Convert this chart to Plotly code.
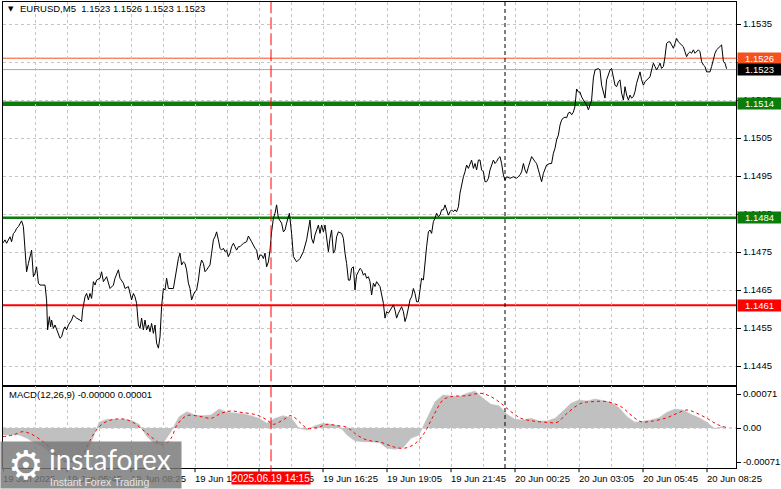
import plotly.graph_objects as go

# ---------------- data ----------------
# bar position (M5 bars from 19 Jun 03:05) and close price
bar_pos = [
    0, 1, 1.8, 3.5, 4.3, 5.2, 6, 6.8, 7.7, 9.3, 10.2, 11, 11.8, 12.7, 13.5, 14.3, 15.2, 16, 16.8, 17.7,
    18.5, 21, 21.8, 22.3, 23.2, 23.8, 24.3, 25.2, 26, 27.7, 28.5, 29.3, 30.2, 31, 31.8, 32.7, 34.3, 35.2, 36.8, 38.5,
    39.3, 39.8, 41, 41.8, 42.7, 43.5, 44.3, 45.2, 46, 46.8, 48.5, 49.3, 50.2, 51.8, 53.5, 55.2, 56, 57.7, 58.5, 60.2,
    61, 62.7, 63.5, 64.3, 65.2, 66, 66.8, 67.7, 68.5, 69.3, 70.2, 71, 71.8, 72.7, 73.5, 74.3, 75.2, 76, 76.8, 77.7,
    78.5, 79.3, 80.2, 81, 81.8, 82.7, 85.2, 86.8, 87.7, 88.5, 89.3, 90.2, 91, 91.8, 92.7, 93.5, 94.3, 95.2, 96, 96.8,
    97.7, 98.5, 99.3, 100.2, 101, 101.8, 103.5, 104.3, 105.2, 106, 106.8, 107.7, 108.5, 109.3, 110.2, 111, 111.8, 112.7, 113.5, 114.3,
    115.2, 116, 116.8, 117.7, 118.5, 120.2, 121.8, 122.7, 123.5, 124.3, 126, 126.8, 127.7, 128.5, 129.3, 130.2, 131, 131.8, 132.7, 133.5,
    134.3, 135.2, 136, 136.8, 137.7, 138.5, 139.3, 140.2, 141, 141.8, 143.2, 144.3, 145.2, 146.8, 148.5, 150.2, 151.8, 153.5, 154.3, 155.2,
    156, 157.7, 158.5, 159.3, 160.2, 161, 161.8, 162.7, 163.5, 164.3, 165.2, 166, 166.8, 167.7, 169.3, 170.2, 171, 171.8, 172.7, 173.5,
    174.3, 175.2, 176, 176.8, 177.7, 178.5, 179.3, 180.2, 181, 181.8, 182.7, 183.5, 184.3, 185.2, 186, 186.8, 188.5, 189.3, 190.2, 191,
    191.8, 192.7, 193.5, 195.2, 196, 196.8, 197.7, 199.3, 200.2, 201, 201.8, 202.7, 203.5, 204.3, 205.2, 206, 206.8, 207.7, 208.5, 209.3,
    210.2, 211, 211.8, 212.7, 213.5, 214.3, 215.2, 216, 216.8, 217.7, 218.5, 219.3, 220.2, 221, 221.8, 222.7, 223.5, 224.3, 225.2, 226,
    226.8, 227.7, 228.5, 229.3, 230.2, 231, 231.8, 232.7, 233.5, 234.3, 235.2, 236, 236.8, 237.7, 238.5, 239.3, 240.2, 241, 241.8, 242.7,
    243.5, 244.3, 245.2, 246, 246.8, 247.7, 248.5, 249.3, 250.2, 251, 251.8, 253.5, 255.2, 256.8, 258.5, 259.3, 260.2, 261, 261.8, 262.7,
    264.3, 266, 266.8, 267.7, 269.3, 270.2, 271.8, 273.5, 274.3, 275.2, 276, 276.8, 277.7, 278.5, 279.3, 280.2, 281, 281.8, 282.7, 283.5,
    284.3, 285.2, 286, 286.8, 287.7, 288.5, 289.3, 290.2, 291.8, 292.7, 293.5, 294.3, 295.2, 296, 297.7, 298.5, 299.3, 300.2, 301, 301.8,
    302.7, 303.5, 304.3, 305.2, 306, 306.8, 307.7, 308.5, 309.3, 310.2, 311, 311.8, 312.7, 313.5, 314.3, 315.2, 316, 316.8, 317.7, 318.5,
    319.3, 320.2, 321, 323.5, 324.3, 325.2, 326, 326.8, 327.7, 328.5, 329.3, 330.2, 331, 331.8, 332.7, 333.5, 334.3, 335.2, 336, 336.8,
    337.7, 338.5, 339.3, 340.2, 341, 341.8, 342.7, 343.5, 344.3, 345.2, 346, 346.8, 347.7, 348.5, 349.3, 350.2, 351, 351.8, 353.5, 354.3,
    355.2, 356, 356.8, 358.5, 359.3, 360.2, 361, 361.8,
]
close = [
    1.14774, 1.14782, 1.14773, 1.14790, 1.14777, 1.14799, 1.14803, 1.14812, 1.14817, 1.14832, 1.14817, 1.14755, 1.14698, 1.14720, 1.14738, 1.14755, 1.14685, 1.14694, 1.14711, 1.14668,
    1.14663, 1.14663, 1.14624, 1.14545, 1.14580, 1.14553, 1.14571, 1.14549, 1.14558, 1.14536, 1.14523, 1.14527, 1.14545, 1.14553, 1.14545, 1.14558, 1.14571, 1.14584, 1.14576, 1.14571,
    1.14567, 1.14597, 1.14632, 1.14641, 1.14624, 1.14641, 1.14628, 1.14672, 1.14663, 1.14676, 1.14681, 1.14698, 1.14672, 1.14685, 1.14654, 1.14663, 1.14681, 1.14703, 1.14681, 1.14668,
    1.14654, 1.14659, 1.14641, 1.14624, 1.14641, 1.14632, 1.14615, 1.14558, 1.14549, 1.14576, 1.14545, 1.14571, 1.14545, 1.14558, 1.14540, 1.14562, 1.14536, 1.14558, 1.14510, 1.14497,
    1.14527, 1.14606, 1.14654, 1.14650, 1.14681, 1.14654, 1.14654, 1.14707, 1.14733, 1.14747, 1.14716, 1.14724, 1.14720, 1.14703, 1.14668, 1.14654, 1.14624, 1.14637, 1.14646, 1.14650,
    1.14676, 1.14711, 1.14729, 1.14720, 1.14698, 1.14703, 1.14716, 1.14747, 1.14782, 1.14790, 1.14803, 1.14782, 1.14760, 1.14755, 1.14760, 1.14751, 1.14755, 1.14738, 1.14747, 1.14764,
    1.14773, 1.14764, 1.14755, 1.14764, 1.14764, 1.14773, 1.14777, 1.14792, 1.14786, 1.14777, 1.14760, 1.14755, 1.14729, 1.14742, 1.14742, 1.14733, 1.14747, 1.14711, 1.14724, 1.14755,
    1.14803, 1.14839, 1.14852, 1.14874, 1.14839, 1.14834, 1.14826, 1.14803, 1.14808, 1.14826, 1.14852, 1.14799, 1.14738, 1.14724, 1.14733, 1.14751, 1.14782, 1.14834, 1.14786, 1.14773,
    1.14795, 1.14821, 1.14799, 1.14821, 1.14803, 1.14821, 1.14790, 1.14751, 1.14786, 1.14808, 1.14747, 1.14755, 1.14790, 1.14803, 1.14799, 1.14786, 1.14747, 1.14720, 1.14676, 1.14676,
    1.14707, 1.14711, 1.14650, 1.14689, 1.14698, 1.14707, 1.14703, 1.14689, 1.14694, 1.14681, 1.14685, 1.14672, 1.14637, 1.14668, 1.14659, 1.14672, 1.14659, 1.14637, 1.14615, 1.14576,
    1.14593, 1.14589, 1.14597, 1.14611, 1.14597, 1.14576, 1.14589, 1.14606, 1.14593, 1.14567, 1.14580, 1.14602, 1.14624, 1.14632, 1.14654, 1.14641, 1.14619, 1.14619, 1.14646, 1.14681,
    1.14676, 1.14729, 1.14764, 1.14803, 1.14808, 1.14799, 1.14830, 1.14839, 1.14852, 1.14843, 1.14847, 1.14861, 1.14861, 1.14874, 1.14861, 1.14847, 1.14856, 1.14861, 1.14856, 1.14861,
    1.14856, 1.14869, 1.14905, 1.14931, 1.14948, 1.14961, 1.14979, 1.14970, 1.14983, 1.14992, 1.14970, 1.14983, 1.14966, 1.14992, 1.14992, 1.14966, 1.14961, 1.14935, 1.14935, 1.14944,
    1.14966, 1.14979, 1.14992, 1.14983, 1.14988, 1.14997, 1.15001, 1.14983, 1.14953, 1.14939, 1.14948, 1.14944, 1.14948, 1.14944, 1.14953, 1.14961, 1.14983, 1.14966, 1.14957, 1.14974,
    1.15001, 1.14988, 1.14983, 1.14966, 1.14935, 1.14957, 1.14979, 1.14983, 1.14983, 1.15010, 1.15023, 1.15045, 1.15058, 1.15084, 1.15097, 1.15103, 1.15105, 1.15103, 1.15116, 1.15118,
    1.15111, 1.15118, 1.15134, 1.15179, 1.15171, 1.15171, 1.15158, 1.15150, 1.15137, 1.15124, 1.15137, 1.15150, 1.15208, 1.15229, 1.15233, 1.15229, 1.15189, 1.15168, 1.15155, 1.15203,
    1.15220, 1.15229, 1.15233, 1.15211, 1.15189, 1.15185, 1.15198, 1.15203, 1.15168, 1.15150, 1.15185, 1.15163, 1.15150, 1.15163, 1.15155, 1.15159, 1.15172, 1.15194, 1.15211, 1.15224,
    1.15203, 1.15189, 1.15198, 1.15211, 1.15229, 1.15247, 1.15238, 1.15229, 1.15238, 1.15247, 1.15233, 1.15238, 1.15264, 1.15299, 1.15303, 1.15303, 1.15295, 1.15286, 1.15299, 1.15312,
    1.15303, 1.15299, 1.15295, 1.15290, 1.15277, 1.15264, 1.15273, 1.15277, 1.15273, 1.15282, 1.15273, 1.15277, 1.15282, 1.15277, 1.15251, 1.15242, 1.15238, 1.15224, 1.15224, 1.15238,
    1.15260, 1.15273, 1.15282, 1.15290, 1.15295, 1.15251, 1.15247, 1.15232,
]

# MACD(12,26,9) histogram, one reading every 4 bars
hist_bar = [
    0, 4, 8, 12, 16, 20, 24, 28, 32, 36, 40, 44, 48, 52, 56, 60, 64, 68, 72, 76,
    80, 84, 88, 92, 96, 100, 104, 108, 112, 116, 120, 124, 128, 132, 136, 140, 144, 148, 152, 156,
    160, 164, 168, 172, 176, 180, 184, 188, 192, 196, 200, 204, 208, 212, 216, 220, 224, 228, 232, 236,
    240, 244, 248, 252, 256, 260, 264, 268, 272, 276, 280, 284, 288, 292, 296, 300, 304, 308, 312, 316,
    320, 324, 328, 332, 336, 340, 344, 348, 352, 356, 360,
]
hist_val = [
    -0.000146, -0.000146, -0.000146, -0.000216, -0.000320, -0.000390, -0.000529, -0.000633, -0.000703, -0.000738,
    -0.000647, -0.000320, 0.000118, 0.000181, 0.000188, 0.000181, 0.000160, 0.000077, -0.000181, -0.000341,
    -0.000320, -0.000077, 0.000237, 0.000341, 0.000271, 0.000258, 0.000271, 0.000397, 0.000327, 0.000306,
    0.000299, 0.000258, 0.000202, 0.000097, 0.000202, 0.000258, 0.000216, -0.000007, -0.000042, 0.000049,
    0.000097, 0.000077, 0.000049, -0.000146, -0.000271, -0.000285, -0.000285, -0.000299, -0.000425, -0.000445,
    -0.000411, -0.000216, -0.000146, 0.000202, 0.000550, 0.000689, 0.000668, 0.000654, 0.000724, 0.000773,
    0.000619, 0.000494, 0.000466, 0.000285, 0.000181, 0.000167, 0.000202, 0.000146, 0.000146, 0.000202,
    0.000355, 0.000515, 0.000585, 0.000564, 0.000606, 0.000564, 0.000536, 0.000425, 0.000237, 0.000118,
    0.000146, 0.000167, 0.000216, 0.000327, 0.000397, 0.000376, 0.000285, 0.000216, 0.000118, -0.000021,
    0.000035,
]
signal_bar = [
    0, 5, 10, 15, 20, 24, 29, 34, 39, 42, 45, 49, 54, 60, 65, 70, 75, 80, 84, 87,
    92, 99, 104, 109, 114, 119, 127, 132, 135, 140, 144, 149, 152, 157, 162, 167, 172, 177, 182, 189,
    195, 200, 205, 210, 215, 220, 224, 232, 239, 244, 249, 254, 259, 265, 272, 277, 282, 289, 295, 302,
    309, 314, 319, 325, 332, 337, 342, 347, 352, 357, 362,
]
signal_val = [
    -0.000181, -0.000146, -0.000077, -0.000146, -0.000285, -0.000425, -0.000668, -0.000703, -0.000599, -0.000390,
    -0.000146, 0.000063, 0.000167, 0.000188, 0.000118, -0.000042, -0.000216, -0.000355, -0.000216, 0.000063,
    0.000258, 0.000237, 0.000202, 0.000306, 0.000355, 0.000327, 0.000271, 0.000167, 0.000077, 0.000167,
    0.000258, 0.000097, -0.000007, 0.000007, 0.000077, 0.000049, 0.000014, -0.000146, -0.000251, -0.000299,
    -0.000390, -0.000425, -0.000355, -0.000146, 0.000237, 0.000585, 0.000654, 0.000675, 0.000724, 0.000654,
    0.000515, 0.000341, 0.000202, 0.000146, 0.000118, 0.000118, 0.000306, 0.000515, 0.000550, 0.000550,
    0.000445, 0.000271, 0.000132, 0.000146, 0.000216, 0.000306, 0.000376, 0.000306, 0.000202, 0.000077,
    0.000007,
]

price_ticks = [1.1445, 1.1455, 1.1465, 1.1475, 1.1485, 1.1495, 1.1505, 1.1515, 1.1525, 1.1535]
time_tick_bars = [0, 32, 64, 96, 128, 160, 192, 224, 256, 288, 320, 352]
time_tick_labels = ["19 Jun 2025", "19 Jun 05:45", "19 Jun 08:25", "19 Jun 11:05", "19 Jun 13:45",
                    "19 Jun 16:25", "19 Jun 19:05", "19 Jun 21:45", "20 Jun 00:25", "20 Jun 03:05",
                    "20 Jun 05:45", "20 Jun 08:25"]
grid_bars = [0, 16, 32, 48, 64, 80, 96, 112, 128, 144, 160, 176, 192, 208, 224, 240, 256, 272, 288,
             304, 320, 336, 352]
macd_ticks = [-0.00071, 0.0, 0.00071]
macd_tick_labels = ["-0.00071", "0.00", "0.00071"]

levels = [1.1526, 1.1523, 1.1514, 1.1484, 1.1461]
level_colors = ["#FF4A1C", "#A8A8A8", "#0A7D0A", "#0A7D0A", "#FF0000"]
level_label_bg = ["#F4511E", "#000000", "#0A7D0A", "#0A7D0A", "#FF0000"]
level_widths = [1, 1, 4.5, 2.5, 2]

cursor_bar = 134          # 2025.06.19 14:15
day_sep_bar = 251         # 20 Jun 00:00

FONT = "Liberation Sans"
GRID = "#C4C4C4"
GDASH = "3px,3px"

fig = go.Figure()
fig.add_trace(go.Scatter(x=bar_pos, y=close, mode="lines", line=dict(color="black", width=1),
                         xaxis="x", yaxis="y", showlegend=False, hoverinfo="skip"))
fig.add_trace(go.Scatter(x=hist_bar, y=hist_val, mode="lines", fill="tozeroy", fillcolor="#C0C0C0",
                         line=dict(color="#C0C0C0", width=0.5), xaxis="x2", yaxis="y2",
                         showlegend=False, hoverinfo="skip"))
fig.add_trace(go.Scatter(x=signal_bar, y=signal_val, mode="lines",
                         line=dict(color="#FF0000", width=1, dash="3px,3px", shape="spline"),
                         xaxis="x2", yaxis="y2", showlegend=False, hoverinfo="skip"))

split = 82 / 466
xr = [0, 366.5]
common_x = dict(range=xr, showline=True, mirror=True, linecolor="black", linewidth=1, zeroline=False,
                tickmode="array", tickvals=grid_bars, showticklabels=False, ticks="",
                showgrid=True, gridcolor=GRID, griddash=GDASH)

fig.update_layout(
    width=781, height=489, margin=dict(l=3, r=45, t=2, b=21, autoexpand=False),
    paper_bgcolor="white", plot_bgcolor="white",
    font=dict(family=FONT, size=9, color="black"),
    xaxis=dict(**common_x, anchor="y"),
    yaxis=dict(domain=[split, 1], range=[1.143974, 1.154079], side="right", anchor="x",
               tickmode="array", tickvals=price_ticks, ticktext=[f"{v:.4f}" for v in price_ticks],
               ticks="outside", ticklen=4, tickcolor="black", showgrid=True, gridcolor=GRID, griddash=GDASH,
               showline=True, mirror=True, linecolor="black", zeroline=False,
               tickfont=dict(family=FONT, size=9.5, color="black")),
    xaxis2=dict(**common_x, anchor="y2"),
    yaxis2=dict(domain=[0, split], range=[-0.000835, 0.000877], side="right", anchor="x2",
                tickmode="array", tickvals=macd_ticks, ticktext=macd_tick_labels,
                ticks="outside", ticklen=4, tickcolor="black", showgrid=False,
                showline=True, mirror=True, linecolor="black", zeroline=False,
                tickfont=dict(family=FONT, size=9.5, color="black")),
)

shapes = []
for lv, c, w in zip(levels, level_colors, level_widths):
    shapes.append(dict(type="line", xref="paper", x0=0, x1=1, yref="y", y0=lv, y1=lv,
                       line=dict(color=c, width=w), layer="below"))
shapes.append(dict(type="line", xref="paper", x0=0, x1=1, yref="y2", y0=0, y1=0,
                   line=dict(color="#B0B0B0", width=1, dash="3px,3px"), layer="below"))
# time-axis tick marks
for b in time_tick_bars:
    shapes.append(dict(type="line", xref="x2", x0=b, x1=b, yref="paper", y0=0, y1=-0.009,
                       line=dict(color="black", width=1)))
shapes.append(dict(type="line", xref="x", x0=cursor_bar, x1=cursor_bar, yref="paper", y0=-0.02, y1=1,
                   line=dict(color="#FF0000", width=1, dash="12px,4px")))
shapes.append(dict(type="line", xref="x", x0=day_sep_bar, x1=day_sep_bar, yref="paper", y0=0, y1=1,
                   line=dict(color="black", width=1, dash="4px,3px")))
fig.update_layout(shapes=shapes)

ann = []
ann.append(dict(xref="paper", yref="paper", x=0.004, y=0.985, text="▼", showarrow=False,
                xanchor="left", yanchor="middle", font=dict(family="DejaVu Sans", size=7, color="black")))
ann.append(dict(xref="paper", yref="paper", x=0.0205, y=0.985,
                text="EURUSD,M5  1.1523 1.1526 1.1523 1.1523", showarrow=False,
                xanchor="left", yanchor="middle", font=dict(family=FONT, size=9.5, color="black")))
ann.append(dict(xref="paper", yref="paper", x=0.0055, y=0.157,
                text="MACD(12,26,9) -0.00000 0.00001", showarrow=False,
                xanchor="left", yanchor="middle", font=dict(family=FONT, size=9.5, color="black")))
for b, t in zip(time_tick_bars, time_tick_labels):
    ann.append(dict(xref="x2", yref="paper", x=b, y=-0.0215, text=t, showarrow=False,
                    xanchor="left", yanchor="middle", xshift=-2,
                    font=dict(family=FONT, size=9.5, color="black")))
for lv, bg in zip(levels, level_label_bg):
    ann.append(dict(xref="paper", yref="y", x=1, y=lv, xshift=1, text=f"{lv:.4f}", showarrow=False,
                    xanchor="left", yanchor="middle", bgcolor=bg, width=43, height=11, borderpad=0,
                    align="center", font=dict(family=FONT, size=9.5, color="white")))
ann.append(dict(xref="x", yref="paper", x=cursor_bar, y=-0.0215, text="2025.06.19 14:15", showarrow=False,
                xanchor="center", yanchor="middle", bgcolor="#FF0000", width=78, height=12, borderpad=0,
                font=dict(family=FONT, size=10, color="white")))
# watermark (panel + texts)
ann.append(dict(xref="paper", yref="paper", x=-0.0041, y=-0.046, text="", showarrow=False,
                xanchor="left", yanchor="bottom", width=180, height=46, bgcolor="rgba(118,118,118,0.82)",
                borderpad=0))
ann.append(dict(xref="paper", yref="paper", x=0.031, y=0.006, text="⚙", showarrow=False,
                xanchor="center", yanchor="middle", font=dict(family="DejaVu Sans", size=40, color="white")))
ann.append(dict(xref="paper", yref="paper", x=0.060, y=0.019, text="instaforex", showarrow=False,
                xanchor="left", yanchor="middle", font=dict(family="Lato", size=28, color="white")))
ann.append(dict(xref="paper", yref="paper", x=0.062, y=-0.031, text="Instant Forex Trading", showarrow=False,
                xanchor="left", yanchor="middle", font=dict(family=FONT, size=10.5, color="#E6E6E6")))
fig.update_layout(annotations=ann)

fig.write_html("out.html", config={"displayModeBar": False},
               post_script="document.body.style.margin='0';document.body.style.overflow='hidden';")
